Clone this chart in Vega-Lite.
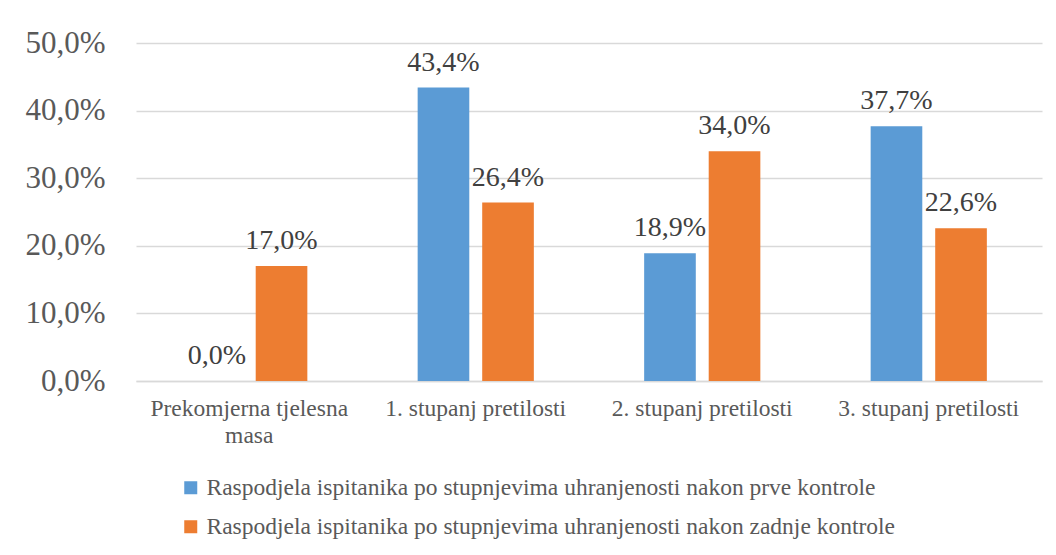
{
  "$schema": "https://vega.github.io/schema/vega-lite/v6.json",
  "autosize": {"type": "none"},
  "width": 906,
  "height": 338,
  "padding": {"left": 136, "top": 43, "right": 14, "bottom": 174},
  "background": "white",
  "config": {
    "locale": {"number": {"decimal": ",", "thousands": ".", "grouping": [3], "currency": ["", " €"]}},
    "view": {"stroke": null},
    "font": "Liberation Serif"
  },
  "data": {
    "values": [
      {"kategorija": "Prekomjerna tjelesna masa", "serija": "Raspodjela ispitanika po stupnjevima uhranjenosti nakon prve kontrole", "vrijednost": 0.0},
      {"kategorija": "Prekomjerna tjelesna masa", "serija": "Raspodjela ispitanika po stupnjevima uhranjenosti nakon zadnje kontrole", "vrijednost": 0.17},
      {"kategorija": "1. stupanj pretilosti", "serija": "Raspodjela ispitanika po stupnjevima uhranjenosti nakon prve kontrole", "vrijednost": 0.434},
      {"kategorija": "1. stupanj pretilosti", "serija": "Raspodjela ispitanika po stupnjevima uhranjenosti nakon zadnje kontrole", "vrijednost": 0.264},
      {"kategorija": "2. stupanj pretilosti", "serija": "Raspodjela ispitanika po stupnjevima uhranjenosti nakon prve kontrole", "vrijednost": 0.189},
      {"kategorija": "2. stupanj pretilosti", "serija": "Raspodjela ispitanika po stupnjevima uhranjenosti nakon zadnje kontrole", "vrijednost": 0.34},
      {"kategorija": "3. stupanj pretilosti", "serija": "Raspodjela ispitanika po stupnjevima uhranjenosti nakon prve kontrole", "vrijednost": 0.377},
      {"kategorija": "3. stupanj pretilosti", "serija": "Raspodjela ispitanika po stupnjevima uhranjenosti nakon zadnje kontrole", "vrijednost": 0.226}
    ]
  },
  "encoding": {
    "x": {
      "field": "kategorija", "type": "nominal", "sort": null,
      "scale": {"paddingInner": 0.487, "paddingOuter": 0.2435},
      "axis": {
        "title": null, "labelAngle": 0, "domain": true, "domainColor": "#d9d9d9", "domainWidth": 1.5,
        "ticks": false, "labelFont": "Liberation Serif", "labelFontSize": 23.5, "labelColor": "#595959",
        "labelPadding": 27, "labelLineHeight": 27, "labelBaseline": "middle", "labelLimit": 400,
        "labelExpr": "datum.label == 'Prekomjerna tjelesna masa' ? ['Prekomjerna tjelesna', 'masa'] : datum.label"
      }
    },
    "xOffset": {"field": "serija", "type": "nominal", "scale": {"paddingInner": 0.2, "paddingOuter": 0}},
    "y": {
      "field": "vrijednost", "type": "quantitative",
      "scale": {"domain": [0, 0.5], "nice": false},
      "axis": {
        "title": null, "format": ".1%", "values": [0, 0.1, 0.2, 0.3, 0.4, 0.5], "labelOverlap": false,
        "domain": false, "ticks": false, "gridColor": "#d9d9d9", "gridWidth": 1.5,
        "labelFont": "Liberation Serif", "labelFontSize": 31, "labelColor": "#595959", "labelPadding": 31
      }
    }
  },
  "layer": [
    {
      "mark": {"type": "bar"},
      "encoding": {
        "color": {
          "field": "serija", "type": "nominal",
          "scale": {"range": ["#5b9bd5", "#ed7d31"]},
          "legend": {
            "title": null, "orient": "none", "legendX": 43, "legendY": 433, "direction": "vertical",
            "symbolType": "square", "symbolSize": 169, "symbolStrokeWidth": 0,
            "labelFont": "Liberation Serif", "labelFontSize": 23.5, "labelColor": "#595959",
            "labelLimit": 1000, "rowPadding": 14, "labelOffset": 4
          }
        }
      }
    },
    {
      "mark": {"type": "text", "baseline": "alphabetic", "dy": -17, "fontSize": 28, "font": "Liberation Serif", "color": "#404040"},
      "encoding": {
        "text": {"field": "vrijednost", "type": "quantitative", "format": ".1%"}
      }
    }
  ]
}
